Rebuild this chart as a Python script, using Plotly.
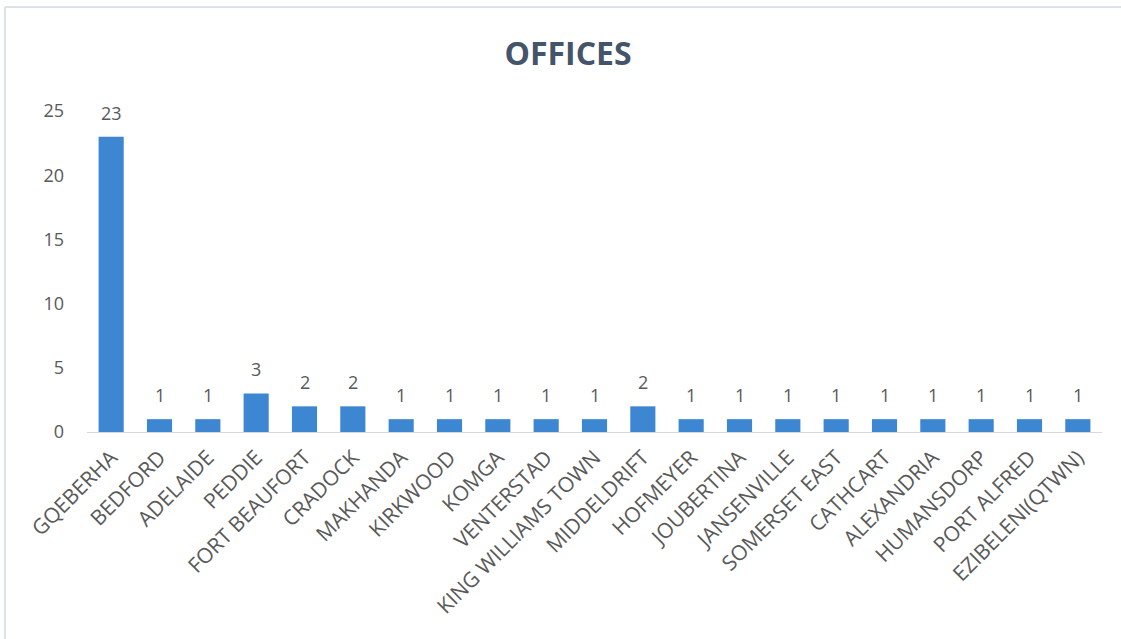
import plotly.graph_objects as go

categories = ["GQEBERHA", "BEDFORD", "ADELAIDE", "PEDDIE", "FORT BEAUFORT", "CRADOCK",
              "MAKHANDA", "KIRKWOOD", "KOMGA", "VENTERSTAD", "KING WILLIAMS TOWN",
              "MIDDELDRIFT", "HOFMEYER", "JOUBERTINA", "JANSENVILLE", "SOMERSET EAST",
              "CATHCART", "ALEXANDRIA", "HUMANSDORP", "PORT ALFRED", "EZIBELENI(QTWN)"]
offices = [23, 1, 1, 3, 2, 2, 1, 1, 1, 1, 1, 2, 1, 1, 1, 1, 1, 1, 1, 1, 1]
title_text = "OFFICES"
y_ticks = [0, 5, 10, 15, 20, 25]

W, H = 1121, 639
L, R, T, B = 87, 19, 111, 207
pw, ph = W - L - R, H - T - B

fig = go.Figure()
fig.add_trace(go.Bar(
    x=categories, y=offices,
    marker=dict(color="#3d87d2", line=dict(width=0)),
    width=0.52,
))

for c, v in zip(categories, offices):
    fig.add_annotation(x=c, y=v, text=str(v), showarrow=False,
                       yanchor="bottom", yshift=10,
                       font=dict(family="Open Sans", size=18, color="#595959"))

fig.update_layout(
    width=W, height=H,
    margin=dict(l=L, r=R, t=T, b=B),
    paper_bgcolor="white", plot_bgcolor="white",
    showlegend=False,
    title=dict(text="<b>" + title_text + "</b>", x=568 / W, xanchor="center",
               y=1 - 54 / H, yanchor="middle",
               font=dict(family="Open Sans", size=32, color="#44546a")),
    xaxis=dict(tickangle=-45, showgrid=False, showline=True, linecolor="#d9d9d9",
               linewidth=1, ticks="outside", ticklen=4, tickcolor="rgba(0,0,0,0)",
               tickfont=dict(family="Open Sans", size=21, color="#595959")),
    yaxis=dict(range=[0, 25], tickvals=y_ticks, showgrid=False, zeroline=False,
               showline=False, ticks="", ticklabelstandoff=22,
               tickfont=dict(family="Open Sans", size=18, color="#595959")),
    shapes=[
        dict(type="line", xref="paper", yref="paper",
             x0=(5 - L) / pw, x1=(W - L) / pw + 0.01,
             y0=(H - B - 7) / ph, y1=(H - B - 7) / ph,
             line=dict(color="#dde2e8", width=2)),
        dict(type="line", xref="paper", yref="paper",
             x0=(5 - L) / pw, x1=(5 - L) / pw,
             y0=(H - B - 7) / ph, y1=-(B + 5) / ph,
             line=dict(color="#dde2e8", width=2)),
    ],
)

fig.write_html("out.html", config={"displayModeBar": False},
               post_script="document.body.style.margin='0';")
